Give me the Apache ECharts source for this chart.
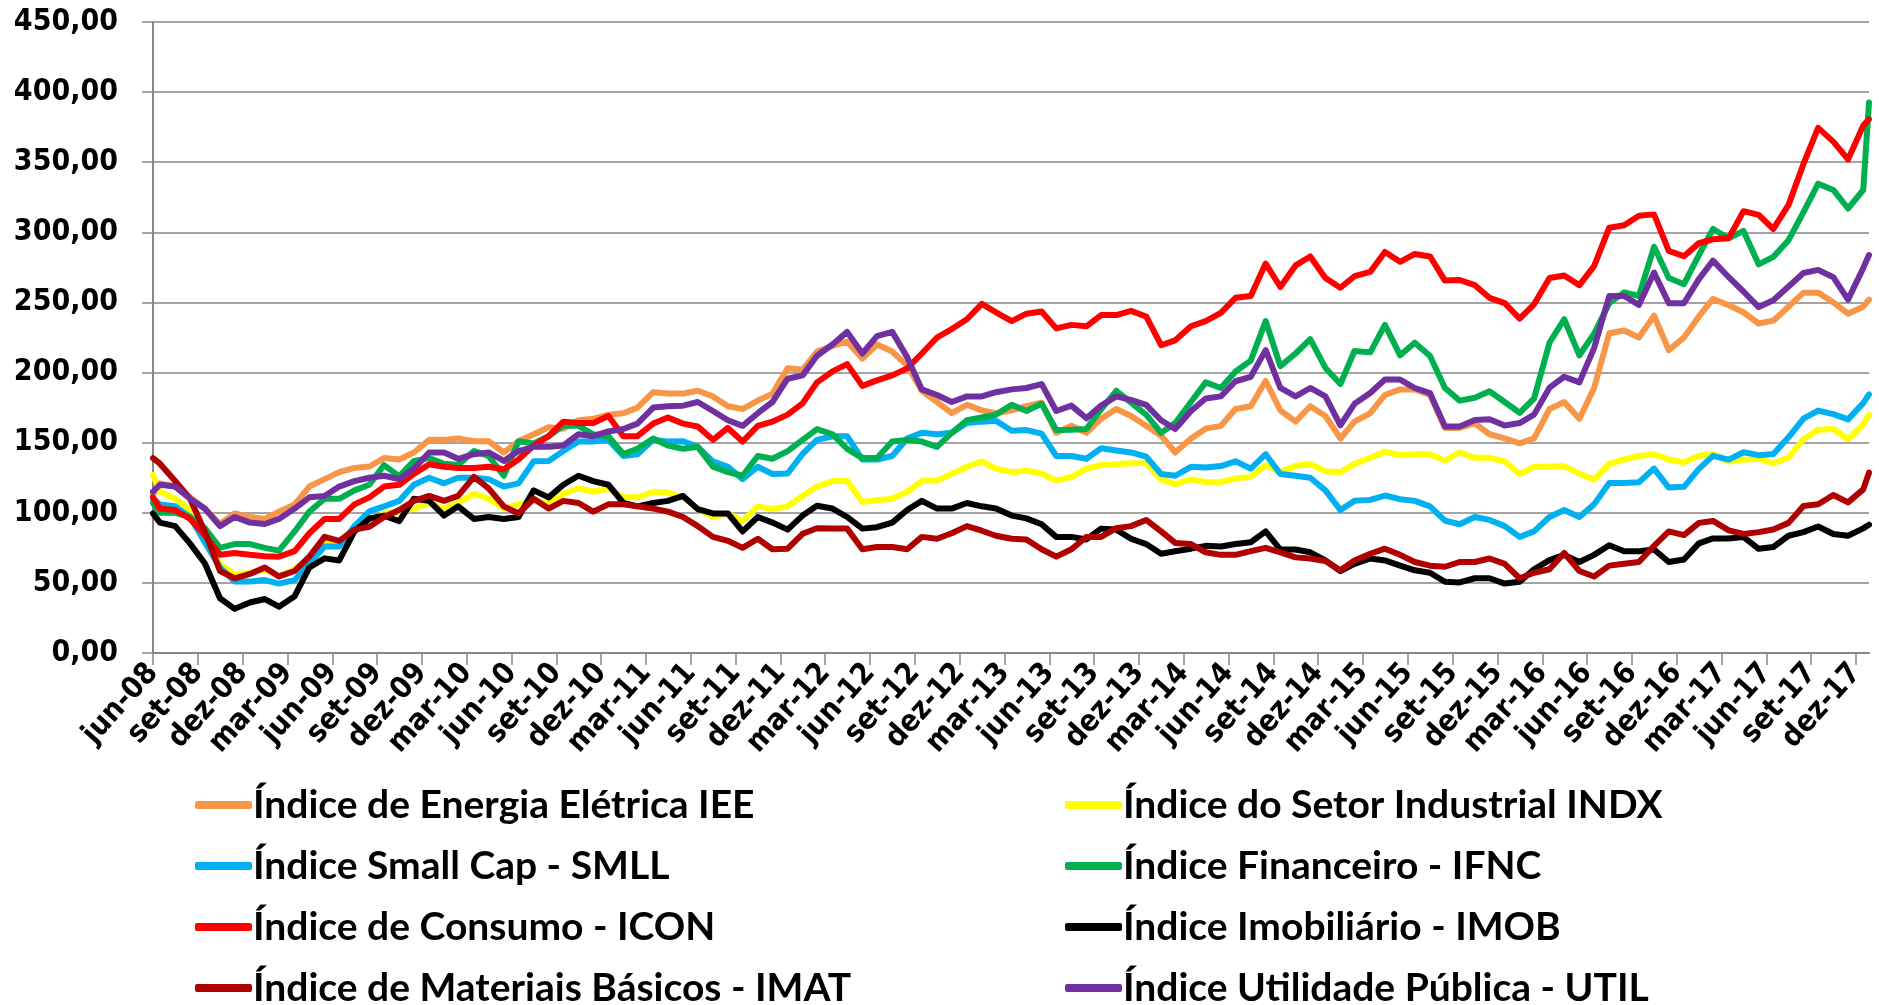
<!DOCTYPE html>
<html>
<head>
<meta charset="utf-8">
<title>Índices setoriais</title>
<script src="https://cdn.jsdelivr.net/npm/echarts@6/dist/echarts.min.js"></script>
<style>
  html, body { margin: 0; padding: 0; background: #fff; }
  #chart { width: 1879px; height: 1005px; }
</style>
</head>
<body>
<div id="chart"></div>
<script>
// first point is the base date, then month-end closes, then a partial jan-18
const startDate = [2008, 6, 16];
const endDate = [2018, 1, 12];
const monthNames = ['jan', 'fev', 'mar', 'abr', 'mai', 'jun', 'jul', 'ago', 'set', 'out', 'nov', 'dez'];

const seriesNames = [
  'Índice de Energia Elétrica IEE',
  'Índice do Setor Industrial INDX',
  'Índice Small Cap - SMLL',
  'Índice Financeiro - IFNC',
  'Índice de Consumo - ICON',
  'Índice Imobiliário - IMOB',
  'Índice de Materiais Básicos - IMAT',
  'Índice Utilidade Pública - UTIL'
];
const seriesColors = ['#F79646', '#FFFF00', '#00B0F0', '#00B050', '#FF0000', '#000000', '#B00000', '#7030A0'];

const iee = [113,
  121, 118.7, 111, 103, 92, 99.5, 97, 95.6, 100.8, 106, 118.7, 124, 129, 132,
  133, 139, 138, 143, 152, 152, 153, 151, 151, 143, 151, 156, 161, 160, 166,
  167, 170, 171, 175, 186, 185, 185, 187, 183, 176, 174, 180, 185, 203, 202,
  215, 219, 222, 210, 220, 215, 205, 187, 179, 171, 177, 173, 171, 173, 176,
  178.5, 157, 162, 157, 167, 174, 169, 162, 155, 143, 153, 160, 162, 174,
  176, 194, 173, 165, 176, 169, 153, 165, 171, 184, 188, 188, 184, 160.5, 160.5,
  164, 156, 153, 149.5, 153, 174, 179, 167, 189, 228, 230, 225, 240.5, 216, 225,
  240, 252.5, 248, 243, 235, 237, 247, 257, 257, 250, 242, 247,
  252];

const indx = [127,
  115, 110, 102, 81.5, 63.6, 56, 57, 60, 54.6, 60, 67.4, 77.7, 79, 89,
  93, 99.5, 100.8, 103, 107, 103, 107, 113.6, 110, 103, 106, 108.5, 107, 113.6, 117.4,
  115, 117.4, 111, 111, 115, 114.4, 111, 103, 97, 99.5, 94, 104.6, 102.6, 104.6, 112,
  118.7, 122.6, 122.6, 107.7, 109, 110, 115, 122.6, 123, 127.7, 132.8, 136.7, 131.5, 129, 130,
  128, 123, 125.6, 131.5, 134, 134.6, 135.4, 135.4, 123.8, 120.5, 123.8, 122, 121.8, 124.6,
  125.6, 134, 129, 133.3, 134.9, 129.5, 129, 134.9, 139.2, 143.6, 141, 141.8, 141.8, 137.2, 143,
  139.2, 139.2, 136.7, 127.7, 132.8, 132.8, 133.3, 127.7, 123.8, 134.9, 138, 140.5, 141.8, 138, 136,
  140.6, 141.9, 136.6, 137.9, 138.5, 135.3, 139.3, 152.5, 159.2, 159.7, 152.5, 163.1,
  169.8];

const smll = [110,
  106, 104.6, 97, 79, 61, 51, 51, 52, 49.5, 52, 63.6, 76, 76, 90.5,
  101, 104.6, 108.5, 120, 125, 121, 125, 125, 124, 118.7, 121, 136.7, 137, 144, 150.8,
  150.8, 152, 140.5, 141.8, 152, 150.8, 151, 147, 136.7, 132.8, 124, 132.8, 127.7, 128, 142,
  152, 154.6, 154.6, 138, 138, 140.5, 153, 157, 156, 157, 164, 165, 165.6, 158.5, 159,
  156.4, 140.5, 140.5, 138.5, 146, 144.4, 143, 140, 127.7, 126.4, 132.8, 132.3, 133.3, 136.7,
  131.5, 141.8, 127.7, 126.4, 125, 116, 102, 108.5, 109.2, 112.3, 109.7, 108.5, 104.6, 94.4, 91.8,
  97, 94.9, 90.5, 82.8, 86.7, 97, 102, 97, 106, 121.3, 121.3, 121.8, 131.5, 118, 118.5,
  131.3, 140.6, 137.9, 143.2, 141.1, 141.9, 153.8, 167.1, 172.9, 170.3, 166.6, 178.2,
  184.4];

const ifnc = [107,
  100, 100, 97, 89, 75, 77.7, 77.7, 75, 73, 86.7, 100.8, 110, 110, 116,
  120, 134, 126, 137, 139, 135, 134, 144, 140.5, 126.4, 151, 149.5, 154.6, 162, 162,
  156, 154.6, 141.8, 145.6, 153, 148, 145.6, 147, 132.8, 129, 126.4, 140.5, 138.5, 144, 152,
  159.7, 156, 145.6, 139, 139, 150.8, 152, 150.8, 147, 157, 166, 168, 170, 177, 172.6,
  177.7, 159, 159.2, 159.7, 173.8, 187, 178.5, 170, 157, 164, 179, 193, 189, 200.8,
  208.5, 236.7, 204.6, 213.6, 223.8, 203.3, 191.8, 215.4, 214.4, 234, 212.3, 221.3, 211.8, 189, 180,
  182, 186.7, 179, 171.3, 181.5, 221.3, 238, 212.3, 227.7, 249.5, 257.2, 254.6, 289.7, 267.4, 263,
  283.8, 302.4, 295.8, 301, 277.2, 282.5, 294.4, 314.3, 334.7, 330.2, 317, 330.2,
  392.6];

const icon = [111,
  103, 102, 95.6, 84, 70, 71.3, 70, 69, 68.7, 72.6, 85.4, 95.6, 95.6, 106,
  111, 118.7, 120, 127.7, 134.6, 132.8, 132, 132, 132.8, 131, 138, 148, 154.6, 165, 164,
  164, 169, 154.6, 154.6, 163.6, 168, 163.6, 161.5, 152, 160.5, 150.8, 162, 165, 170, 178,
  193, 200.8, 206, 190.5, 194.4, 198, 203, 213.6, 225, 231, 238, 249, 243, 236.7, 242,
  243.6, 231.5, 234, 233, 241, 241, 244, 240, 219.5, 223, 233, 236.7, 242.6, 253.3,
  254.6, 277.7, 261, 276.4, 282.8, 267.4, 260.5, 268.7, 271.8, 286, 279, 284.6, 282.8, 265.6, 266,
  262.3, 253.3, 249.5, 238.5, 248.7, 267.4, 269.2, 262.3, 275.9, 303.3, 305.1, 311.8, 312.8, 286.7, 283,
  292.3, 295, 295.8, 315.1, 312.5, 302.4, 319.6, 348.8, 374.5, 364.7, 352, 376.1,
  380.6];

const imob = [99.5,
  93, 90.5, 78, 64, 39, 31.5, 36, 38.5, 33, 40.5, 61, 67.5, 66, 86.7,
  96, 98, 94, 110, 108.5, 98, 104.6, 95.6, 97, 95.6, 97, 116, 111, 120, 126.4,
  122.6, 120, 107, 104.6, 107, 108.5, 112, 102.6, 99.5, 99.5, 86.7, 97, 93, 88, 98,
  105, 103, 97, 88.7, 89.7, 93, 102, 108.5, 103, 103, 107, 104.6, 103, 98, 96,
  91.8, 82.8, 82.8, 81, 88.7, 88, 81.5, 77.7, 70.8, 72.6, 74.4, 76.4, 75.9, 77.7,
  79, 86.7, 73.8, 73.8, 71.8, 66, 58.5, 63.6, 67.4, 66, 62.3, 59, 57.2, 50.8, 50.3,
  53.3, 53.3, 49.5, 50.8, 59.7, 66.2, 70, 64.9, 70, 76.9, 72.6, 72.6, 73.8, 64.9, 66.7,
  78.2, 81.7, 81.7, 82.8, 74.3, 75.6, 83.6, 86.2, 90.2, 84.9, 83.6, 88.9,
  91.5];

const imat = [139,
  135, 122.6, 110, 86.7, 58.5, 53.3, 56.4, 61, 54.6, 58.5, 68.7, 82.8, 80, 88,
  90, 97, 102, 108.5, 112, 108.5, 112, 125.6, 117.4, 104.6, 99.5, 110, 103, 108.5, 107,
  100.8, 106, 106, 104.6, 103, 100.8, 97, 90.5, 82.8, 80, 75, 81.5, 74, 74.4, 85,
  89, 88.7, 88.7, 74, 75.6, 75.6, 74, 82.8, 81.5, 85.4, 90.5, 87.2, 83.6, 81.5, 81,
  74, 68.7, 74, 82.8, 82.8, 89, 90.5, 94.9, 86.7, 78.5, 77.7, 71.8, 70, 70,
  72.6, 75, 71.8, 68.2, 67.4, 65.6, 59, 66, 70.8, 74.4, 70, 64.9, 62.3, 61.5, 64.9,
  64.9, 67.4, 63.6, 53.3, 57.2, 59.7, 71.3, 58.5, 54.6, 62.3, 63.6, 64.9, 76.4, 86.7, 84.1,
  92.8, 94.2, 87.5, 84.9, 86.2, 88.1, 92.8, 104.8, 106.1, 112.7, 107.4, 116.7,
  128.6];

const util = [115,
  120, 118.7, 110, 103, 90.5, 97, 93, 92, 95.6, 103, 111, 112, 118.7, 122.6,
  125, 126.4, 124, 131.5, 143, 143, 138.5, 141.8, 143, 137, 144, 147, 147, 148, 156,
  154.6, 158, 159.7, 163.6, 175, 176, 176.4, 179, 172.6, 166, 162, 171, 179, 195.6, 198,
  212, 220, 229, 213.6, 226, 229, 211, 188, 184, 179, 183, 183, 186, 188, 189,
  191.8, 172.6, 176.4, 167.4, 176.4, 183, 180.5, 177, 166, 159.7, 172.6, 181.5, 183, 193.8,
  197, 216, 189, 183, 189, 183, 162.3, 177.7, 185.4, 195, 195, 189, 185.4, 161.5, 161.5,
  166.2, 166.7, 162.3, 164, 170, 189.2, 197, 193, 217.4, 254.6, 254.6, 248.2, 271.3, 249.5, 249.5,
  266.6, 279.8, 268, 257.8, 246.7, 251.5, 261.3, 271, 273.2, 268, 252, 274.5,
  283.8];

const allValues = [iee, indx, smll, ifnc, icon, imob, imat, util];

function daysIn(y, m) {
  return new Date(y, m, 0).getDate();
}
// position in months counted from the start date (the axis ticks sit every 3 months from it)
function monthPos(y, m, d) {
  return (y - startDate[0]) * 12 + (m - startDate[1]) + (d - startDate[2]) / daysIn(y, m);
}

const xPos = [0];
for (let k = 0; k < 115; k++) {
  const y = startDate[0] + Math.floor((startDate[1] - 1 + k) / 12);
  const m = (startDate[1] - 1 + k) % 12 + 1;
  xPos.push(monthPos(y, m, daysIn(y, m)));
}
xPos.push(monthPos(endDate[0], endDate[1], endDate[2]));
const xMax = xPos[xPos.length - 1];

function tickLabel(v) {
  if (Math.abs(v - Math.round(v)) > 1e-6 || Math.round(v) % 3 !== 0) return '';
  const idx = startDate[1] - 1 + Math.round(v);
  const yy = (startDate[0] + Math.floor(idx / 12)) % 100;
  return monthNames[idx % 12] + '-' + String(yy).padStart(2, '0');
}

const chart = echarts.init(document.getElementById('chart'));

const axisFont = '"DejaVu Sans Condensed", "DejaVu Sans", sans-serif';
const legendFont = 'Lato, "Liberation Sans", sans-serif';

const legendCommon = {
  orient: 'vertical',
  top: 785,
  height: 260,
  padding: 0,
  icon: 'roundRect',
  itemWidth: 57,
  itemHeight: 8,
  itemGap: 21,
  selectedMode: false,
  textStyle: {
    fontFamily: legendFont,
    fontWeight: 'bold',
    fontSize: 39,
    lineHeight: 40,
    color: '#000',
    padding: [0, 0, 0, -4]
  }
};

const option = {
  animation: false,
  backgroundColor: '#fff',
  grid: {
    left: 153,
    right: 10,
    top: 22,
    bottom: 352
  },
  legend: [
    Object.assign({}, legendCommon, {
      left: 195,
      data: [seriesNames[0], seriesNames[2], seriesNames[4], seriesNames[6]]
    }),
    Object.assign({}, legendCommon, {
      left: 1065,
      data: [seriesNames[1], seriesNames[3], seriesNames[5], seriesNames[7]]
    })
  ],
  xAxis: {
    type: 'value',
    min: 0,
    max: xMax,
    interval: 3,
    axisLine: { show: true, lineStyle: { color: '#868686', width: 2 } },
    axisTick: { show: true, length: 12, lineStyle: { color: '#868686', width: 1.5 } },
    splitLine: { show: false },
    axisLabel: {
      rotate: 48,
      margin: 15,
      showMaxLabel: false,
      fontFamily: axisFont,
      fontWeight: 'bold',
      fontSize: 30,
      color: '#000',
      formatter: tickLabel
    }
  },
  yAxis: {
    type: 'value',
    min: 0,
    max: 450,
    interval: 50,
    axisLine: { show: true, lineStyle: { color: '#868686', width: 2 } },
    axisTick: { show: true, length: 11, lineStyle: { color: '#868686', width: 1.5 } },
    splitLine: { show: true, lineStyle: { color: '#868686', width: 1.5 } },
    axisLabel: {
      margin: 35,
      fontFamily: axisFont,
      fontWeight: 'bold',
      fontSize: 30,
      color: '#000',
      formatter: function (v) {
        return v.toFixed(2).replace('.', ',');
      }
    }
  },
  series: seriesNames.map(function (name, i) {
    return {
      name: name,
      type: 'line',
      showSymbol: false,
      symbol: 'none',
      color: seriesColors[i],
      lineStyle: { width: 6, color: seriesColors[i], cap: 'round', join: 'round' },
      data: allValues[i].map(function (v, j) { return [xPos[j], v]; })
    };
  })
};

chart.setOption(option);
</script>
</body>
</html>
